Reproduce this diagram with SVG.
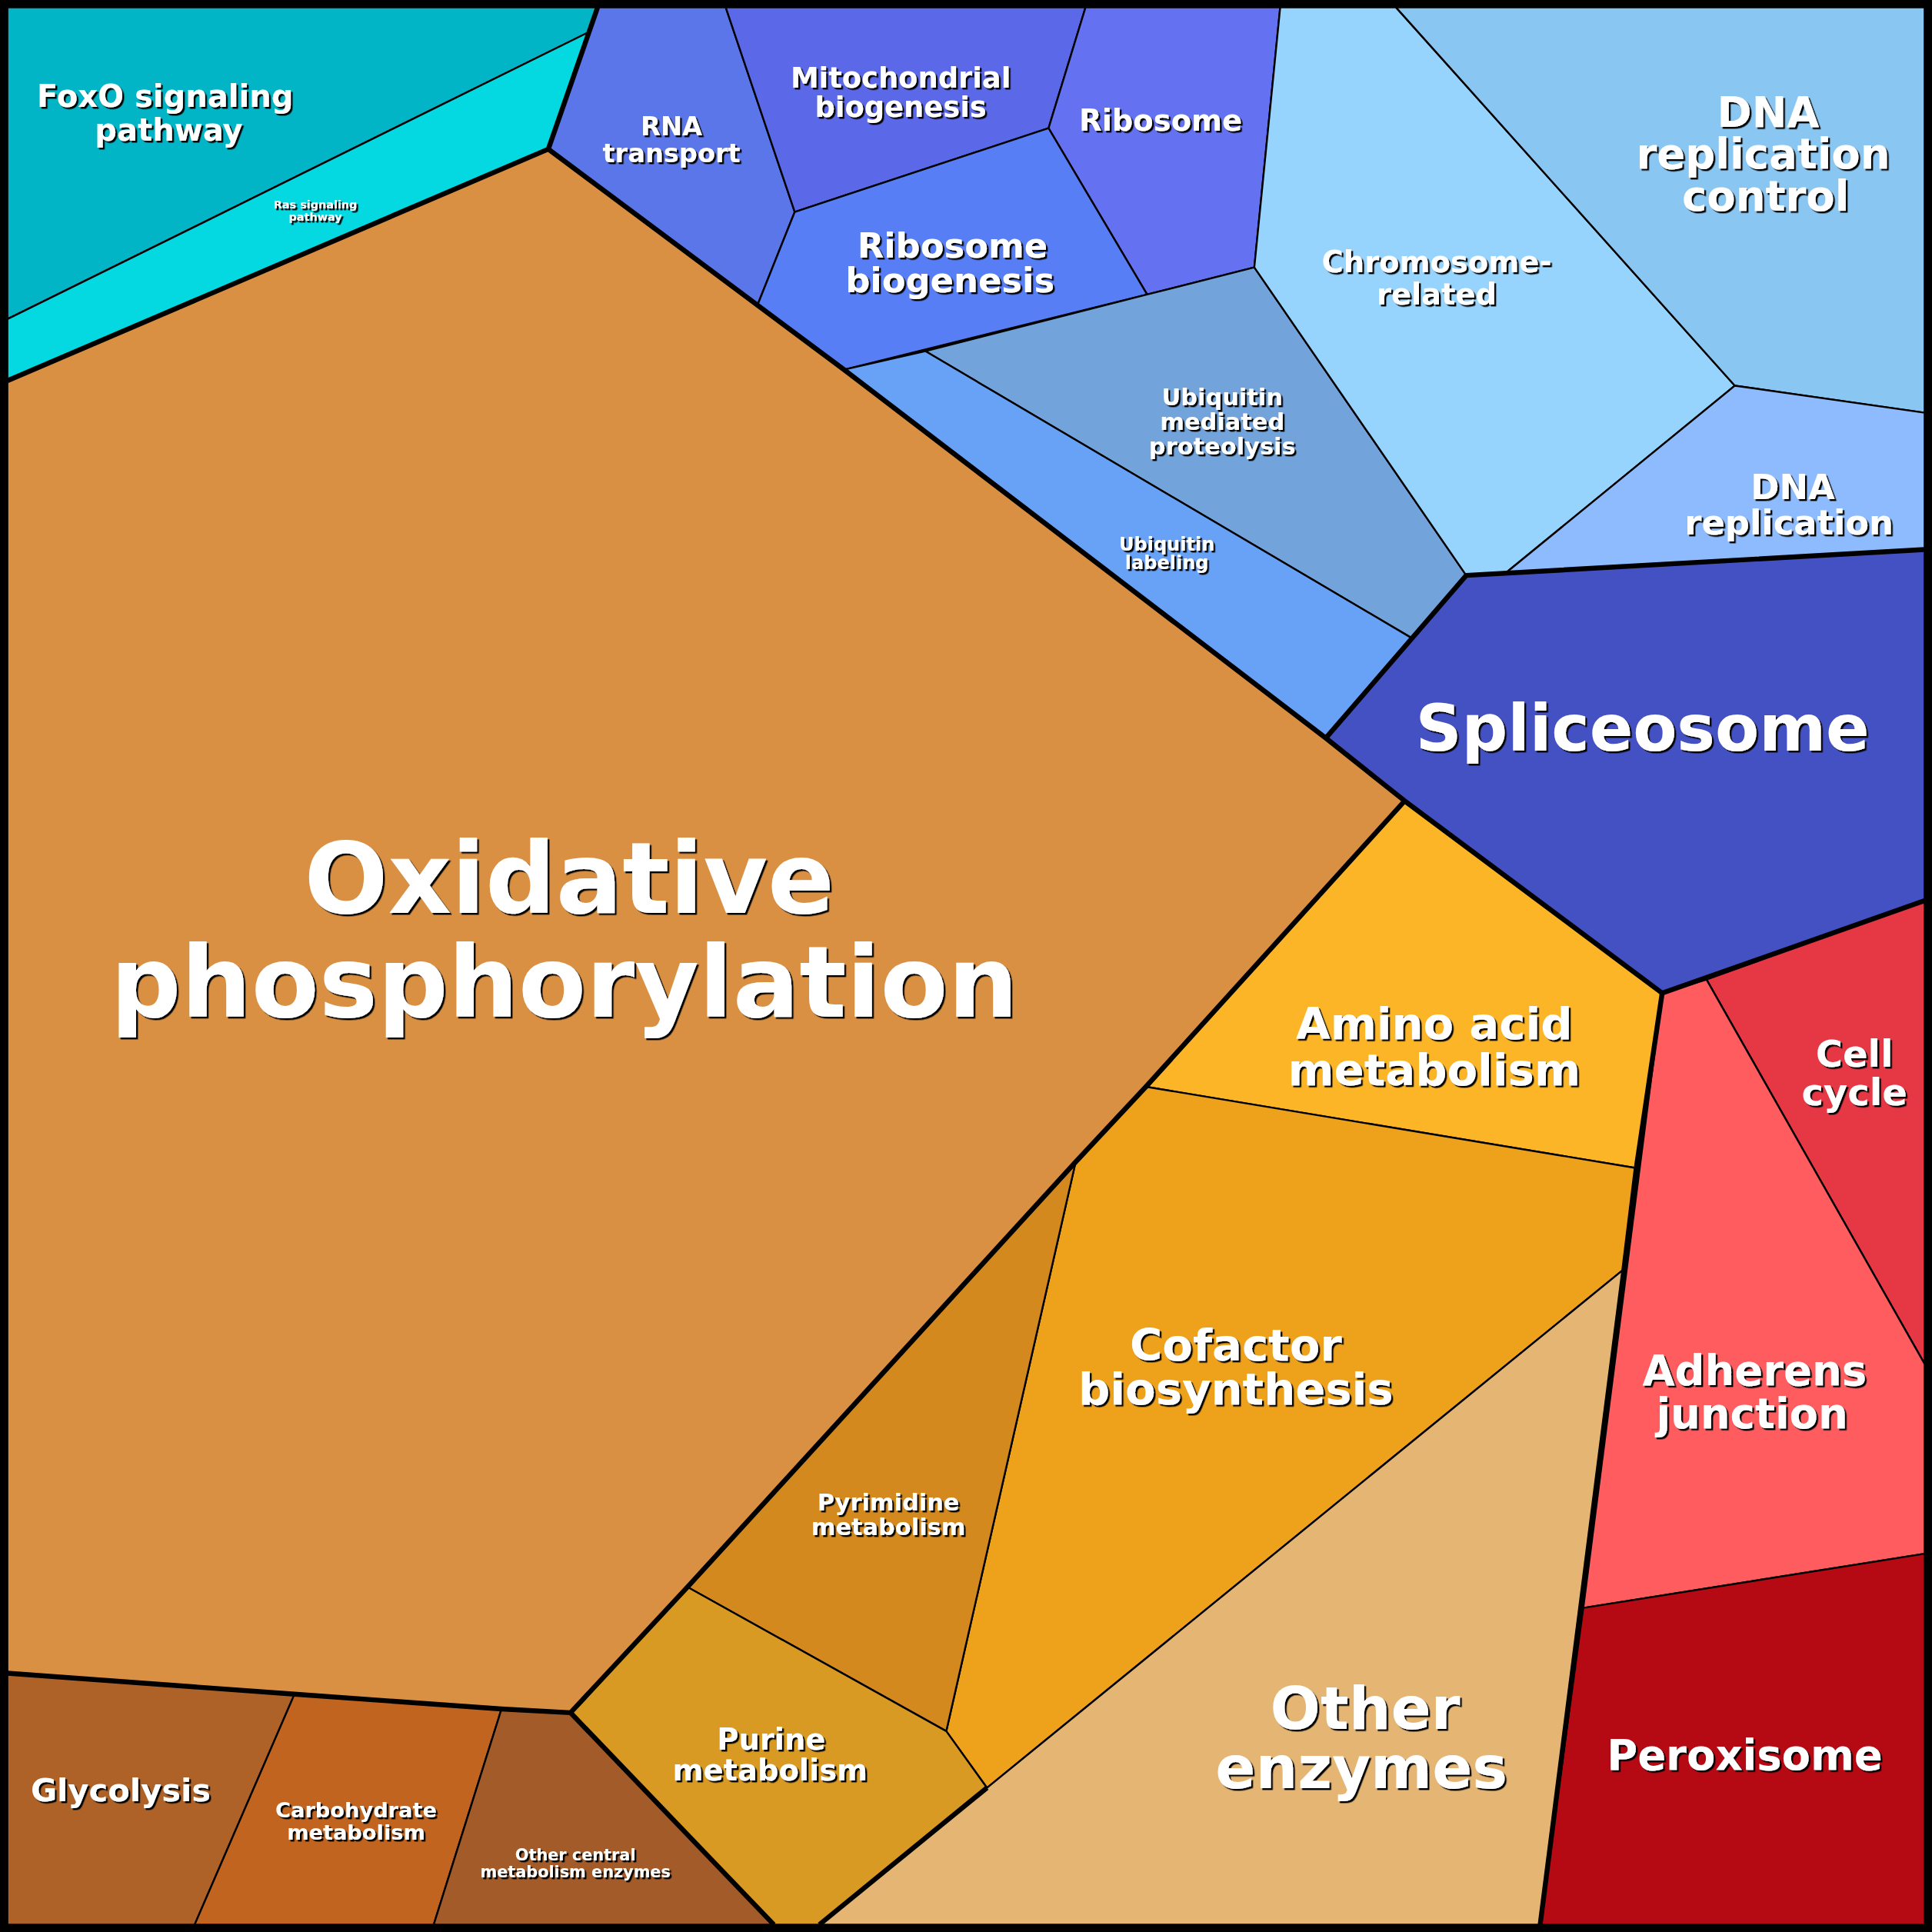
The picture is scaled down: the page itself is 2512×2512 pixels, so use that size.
<svg xmlns="http://www.w3.org/2000/svg" width="2512" height="2512" viewBox="0 0 2512 2512">
<defs>
<filter id="sh" x="-10%" y="-10%" width="120%" height="130%"><feDropShadow dx="1.5" dy="1.5" stdDeviation="0" flood-color="#000" flood-opacity="1"/></filter>
</defs>
<style>
polygon{stroke:#000;stroke-width:1.5;stroke-linejoin:round}
text{font-family:"DejaVu Sans",sans-serif;font-weight:bold;fill:#fff;text-anchor:middle;filter:url(#sh)}
.thick{fill:none;stroke:#000;stroke-width:4;stroke-linejoin:round}
</style>
<rect width="2512" height="2512" fill="#000"/>
<g transform="scale(1.60204)">
<g id="foxo"><polygon points="6,6 485,6 478,26 6,259" fill="#02b5c6"/><text font-size="25"><tspan x="134" y="87">FoxO signaling</tspan><tspan x="137" y="114">pathway</tspan></text></g>
<g id="ras"><polygon points="478,26 445,121 6,309 6,259" fill="#04d8e0"/><text font-size="9"><tspan x="256" y="169">Ras signaling</tspan><tspan x="256" y="179">pathway</tspan></text></g>
<g id="oxphos"><polygon points="445,121 685,300 1076,599 1140,650 930,882 873,943 558,1288 463,1390 407,1387 239,1375 6,1358 6,309" fill="#da9043"/><text font-size="80"><tspan x="462" y="741">Oxidative</tspan><tspan x="458" y="825">phosphorylation</tspan></text></g>
<g id="rna"><polygon points="485,6 589,6 645,172 615,247 445,121" fill="#5a76e8"/><text font-size="21"><tspan x="545" y="110">RNA</tspan><tspan x="545" y="132">transport</tspan></text></g>
<g id="mito"><polygon points="589,6 881,6 851,104 645,172" fill="#5b68e8"/><text font-size="23"><tspan x="731" y="71">Mitochondrial</tspan><tspan x="731" y="95">biogenesis</tspan></text></g>
<g id="ribosome"><polygon points="881,6 1039,6 1018,217 931,239 851,104" fill="#6472f2"/><text font-size="24" x="942" y="106">Ribosome</text></g>
<g id="ribbiog"><polygon points="645,172 851,104 931,239 685,300 615,247" fill="#587ef5"/><text font-size="28"><tspan x="773" y="209">Ribosome</tspan><tspan x="771" y="237">biogenesis</tspan></text></g>
<g id="ubimed"><polygon points="751,285 931,239 1018,217 1190,467 1146,518" fill="#72a4db"/><text font-size="19"><tspan x="992" y="329">Ubiquitin</tspan><tspan x="992" y="349">mediated</tspan><tspan x="992" y="369">proteolysis</tspan></text></g>
<g id="ubilab"><polygon points="685,300 751,285 1146,518 1076,599" fill="#68a2f7"/><text font-size="15"><tspan x="947" y="447">Ubiquitin</tspan><tspan x="947" y="462">labeling</tspan></text></g>
<g id="chrom"><polygon points="1039,6 1133,6 1408,313 1222,465 1190,467 1018,217" fill="#96d4fd"/><text font-size="24"><tspan x="1166" y="221">Chromosome-</tspan><tspan x="1166" y="247">related</tspan></text></g>
<g id="dnactrl"><polygon points="1133,6 1562,6 1562,335 1408,313" fill="#8ac6f2"/><text font-size="34"><tspan x="1435" y="103">DNA</tspan><tspan x="1431" y="137">replication</tspan><tspan x="1433" y="171">control</tspan></text></g>
<g id="dnarep"><polygon points="1408,313 1562,335 1562,446 1222,465" fill="#8ebbfd"/><text font-size="28"><tspan x="1455" y="405">DNA</tspan><tspan x="1452" y="434">replication</tspan></text></g>
<g id="splice"><polygon points="1190,467 1562,446 1562,731 1349,806 1140,650 1076,599" fill="#4451c3"/><text font-size="52" x="1333" y="609">Spliceosome</text></g>
<g id="cellcycle"><polygon points="1385,795 1562,731 1562,1107" fill="#e53844"/><text font-size="30"><tspan x="1505" y="866">Cell</tspan><tspan x="1505" y="897">cycle</tspan></text></g>
<g id="adherens"><polygon points="1349,806 1385,795 1562,1107 1562,1261 1285,1305" fill="#fe5c5f"/><text font-size="34"><tspan x="1424" y="1124">Adherens</tspan><tspan x="1422" y="1159">junction</tspan></text></g>
<g id="perox"><polygon points="1285,1305 1562,1261 1562,1562 1250,1562" fill="#b50914"/><text font-size="34" x="1416" y="1436">Peroxisome</text></g>
<g id="amino"><polygon points="1140,650 1349,806 1328,948 930,882" fill="#fcb526"/><text font-size="36"><tspan x="1164" y="843">Amino acid</tspan><tspan x="1164" y="881">metabolism</tspan></text></g>
<g id="cofactor"><polygon points="930,882 1328,948 1318,1030 801,1451 768,1405 873,943" fill="#eea11b"/><text font-size="36"><tspan x="1003" y="1104">Cofactor</tspan><tspan x="1003" y="1140">biosynthesis</tspan></text></g>
<g id="otherenz"><polygon points="1318,1030 1250,1562 665,1562 801,1451" fill="#e5b673"/><text font-size="48"><tspan x="1108" y="1403">Other</tspan><tspan x="1105" y="1451">enzymes</tspan></text></g>
<g id="pyrimidine"><polygon points="873,943 768,1405 558,1288" fill="#d4891f"/><text font-size="19"><tspan x="721" y="1226">Pyrimidine</tspan><tspan x="721" y="1246">metabolism</tspan></text></g>
<g id="purine"><polygon points="558,1288 768,1405 801,1451 665,1562 628,1562 463,1390" fill="#d99a23"/><text font-size="24"><tspan x="626" y="1420">Purine</tspan><tspan x="625" y="1445">metabolism</tspan></text></g>
<g id="glycolysis"><polygon points="6,1358 239,1375 158,1562 6,1562" fill="#ae6228"/><text font-size="26" x="98" y="1462">Glycolysis</text></g>
<g id="carb"><polygon points="239,1375 407,1387 352,1562 158,1562" fill="#c1641f"/><text font-size="17"><tspan x="289" y="1475">Carbohydrate</tspan><tspan x="289" y="1493">metabolism</tspan></text></g>
<g id="othercentral"><polygon points="407,1387 463,1390 628,1562 352,1562" fill="#a35b29"/><text font-size="13"><tspan x="467" y="1510">Other central</tspan><tspan x="467" y="1524">metabolism enzymes</tspan></text></g>
<g id="connectors">
<polyline class="thick" points="485,6 445,121 6,309"/>
<polyline class="thick" points="445,121 685,300 1076,599 1140,650 1349,806"/>
<polyline class="thick" points="1076,599 1190,467 1562,446"/>
<polyline class="thick" points="1349,806 1562,731"/>
<polyline class="thick" points="1349,806 1328,948 1318,1030 1250,1562"/>
<polyline class="thick" points="1140,650 930,882 873,943 558,1288 463,1390 407,1387 239,1375 6,1358"/>
<polyline class="thick" points="463,1390 628,1562"/>
<polyline class="thick" points="801,1451 665,1562"/>
<rect x="3" y="3" width="1562" height="1562" fill="none" stroke="#000" stroke-width="6"/>
</g>
</g>
</svg>
